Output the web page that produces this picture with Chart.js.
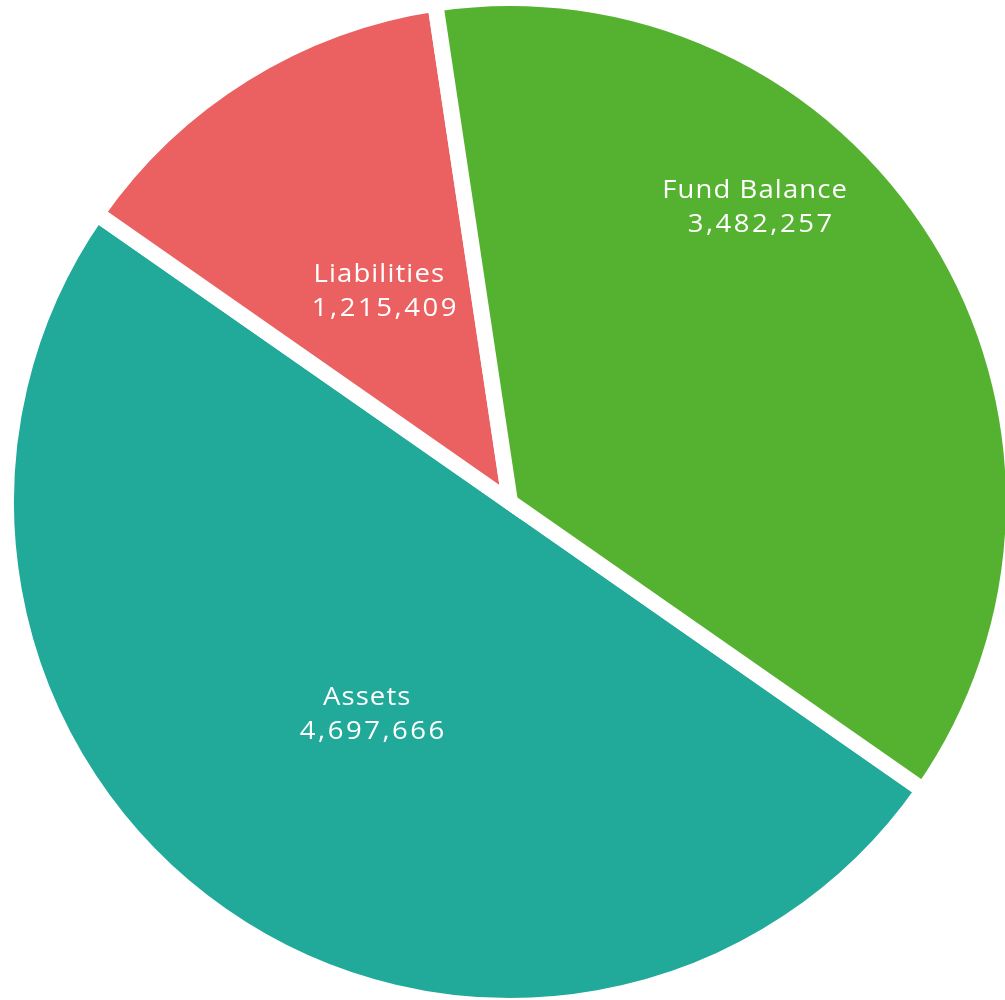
<!DOCTYPE html>
<html><head><meta charset="utf-8">
<script src="https://cdn.jsdelivr.net/npm/chart.js@4.4.0/dist/chart.umd.min.js"></script>
<style>
html,body{margin:0;padding:0;background:#fff;overflow:hidden;width:1005px;height:1000px}
#wrap{position:absolute;left:-3px;top:-11px;width:1026px;height:1026px}
</style></head><body>
<div id="wrap"><canvas id="c"></canvas></div>
<script>
const categories = ["Assets", "Liabilities", "Fund Balance"];
const values = [4697666, 1215409, 3482257];
const colors = ["#21a99a", "#eb6060", "#55b230"];
// label placement per slice: angle offset from slice middle (deg) and radius fraction
const labelPlacement = [{da: -1.0, r: 0.502}, {da: 0.6, r: 0.494}, {da: -18.45, r: 0.766}];

const fmt = v => v.toLocaleString('en-US');

const labelPlugin = {
  id: 'sliceLabels',
  afterDatasetsDraw(chart) {
    const ctx = chart.ctx;
    const meta = chart.getDatasetMeta(0);
    meta.data.forEach((arc, i) => {
      const p = arc.getProps(['x','y','startAngle','endAngle','outerRadius'], true);
      const mid = (p.startAngle + p.endAngle) / 2 + labelPlacement[i].da * Math.PI / 180;
      const r = p.outerRadius * labelPlacement[i].r;
      const x = p.x + Math.cos(mid) * r;
      const y = p.y + Math.sin(mid) * r;
      ctx.save();
      ctx.translate(x, y);
      ctx.scale(1.1, 1);
      ctx.fillStyle = '#ffffff';
      ctx.font = '500 25px "Open Sans", sans-serif';
      ctx.textAlign = 'center';
      ctx.textBaseline = 'middle';
      ctx.letterSpacing = '1px';
      ctx.fillText(categories[i], -1.5, -14.5);
      ctx.letterSpacing = '2.3px';
      ctx.fillText(fmt(values[i]), 4, 19.5);
      ctx.restore();
    });
  }
};

new Chart(document.getElementById('c'), {
  type: 'pie',
  data: {
    labels: categories,
    datasets: [{
      data: values,
      backgroundColor: colors,
      borderColor: '#ffffff',
      borderWidth: 16,
      borderJoinStyle: 'miter'
    }]
  },
  options: {
    responsive: true,
    maintainAspectRatio: false,
    animation: false,
    rotation: 124.9,
    layout: { padding: 1 },
    plugins: { legend: { display: false }, tooltip: { enabled: false } }
  },
  plugins: [labelPlugin]
});
</script>
</body></html>
